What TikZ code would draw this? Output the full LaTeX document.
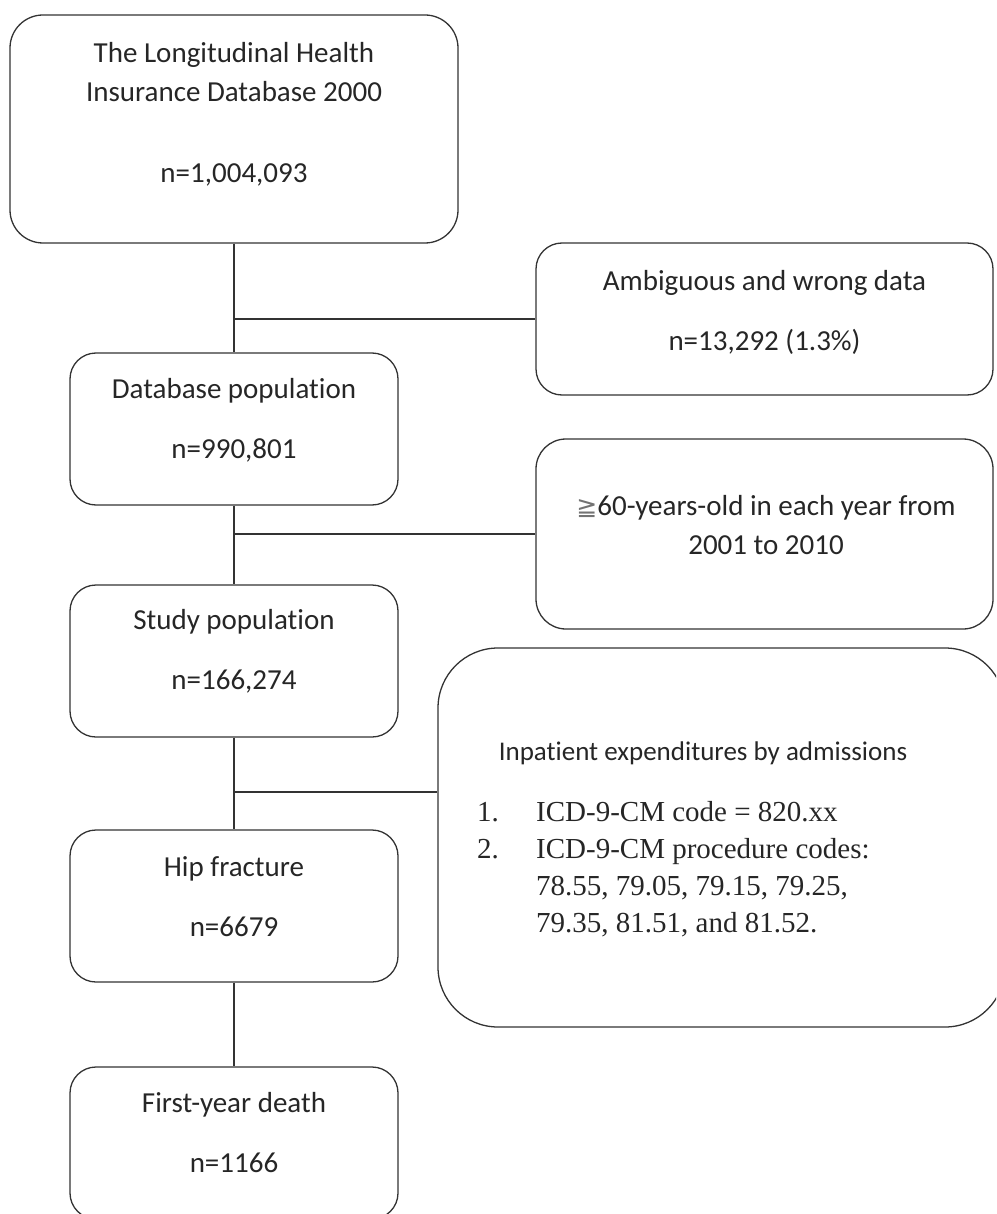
\documentclass[tikz,border=0pt]{standalone}
\usepackage{fontspec}
\setmainfont{Carlito}[Ligatures=CommonOff]
\newfontfamily\listfont{Liberation Serif}
\newfontfamily\symfont{DejaVu Sans}

\tikzset{
  box/.style={draw=black!80, line width=1.3pt, rounded corners=#1, inner sep=0pt},
  box/.default=26pt,
  txt/.style={align=center, inner sep=0pt, text=black!85, font=\fontsize{29}{39}\selectfont},
  link/.style={draw=black!80, line width=1.3pt}
}

\begin{document}
\begin{tikzpicture}[x=1pt, y=-1pt]

% Page frame, the box on the right runs off the edge
\useasboundingbox (0,0) rectangle (996,1214);
\clip (0,0) rectangle (996,1214);

% Main column of boxes
\node[box=33pt, minimum width=448pt, minimum height=228pt] (top)   at (234,129)  {};
\node[box,      minimum width=328pt, minimum height=152pt] (db)    at (234,429)  {};
\node[box,      minimum width=328pt, minimum height=152pt] (study) at (234,661)  {};
\node[box,      minimum width=328pt, minimum height=152pt] (hip)   at (234,906)  {};
\node[box,      minimum width=328pt, minimum height=152pt] (death) at (234,1143) {};

% Exclusion and selection boxes
\node[box,      minimum width=457pt, minimum height=152pt] (amb)   at (764.5,319) {};
\node[box=30pt, minimum width=457pt, minimum height=190pt] (age)   at (764.5,534) {};
\node[box=60pt, minimum width=567pt, minimum height=379pt] (inpat) at (721.5,837.5) {};

% Texts
\node[txt] (topT)   at (234,114)  {The Longitudinal Health\\Insurance Database 2000\\[42pt]n=1,004,093};
\node[txt] (dbT)    at (234,420)  {Database population\\[21pt]n=990,801};
\node[txt] (studyT) at (234,651)  {Study population\\[21pt]n=166,274};
\node[txt] (hipT)   at (234,897)  {Hip fracture\\[21pt]n=6679};
\node[txt] (deathT) at (234,1133) {First-year death\\[21pt]n=1166};
\node[txt] (ambT)   at (764.5,312) {Ambiguous and wrong data\\[21pt]n=13,292 (1.3\%)};
\node[txt] (ageT)   at (766,525)  {{\symfont\fontsize{25}{39}\selectfont\color{black!55}≧}60-years-old in each year from\\2001 to 2010};
\node[txt, font=\fontsize{27}{39}\selectfont] (inpT) at (703,753) {Inpatient expenditures by admissions};
\node[anchor=west, inner sep=0pt, text=black!85, font=\listfont\fontsize{29}{37}\selectfont] (inpL) at (477,870)
  {\begin{tabular}{@{}p{59pt}@{}l@{}}
   1. & ICD-9-CM code = 820.xx\\
   2. & ICD-9-CM procedure codes:\\
      & 78.55, 79.05, 79.15, 79.25,\\
      & 79.35, 81.51, and 81.52.
   \end{tabular}};

% Connectors
\draw[link] (top) -- (db);
\draw[link] (top.south |- amb.west) -- (amb.west);
\draw[link] (db) -- (study);
\draw[link] (db.south |- age.west) -- (age.west);
\draw[link] (study) -- (hip);
\coordinate (split) at (234,792);
\draw[link] (split) -- (split -| inpat.west);
\draw[link] (hip) -- (death);

\end{tikzpicture}
\end{document}
